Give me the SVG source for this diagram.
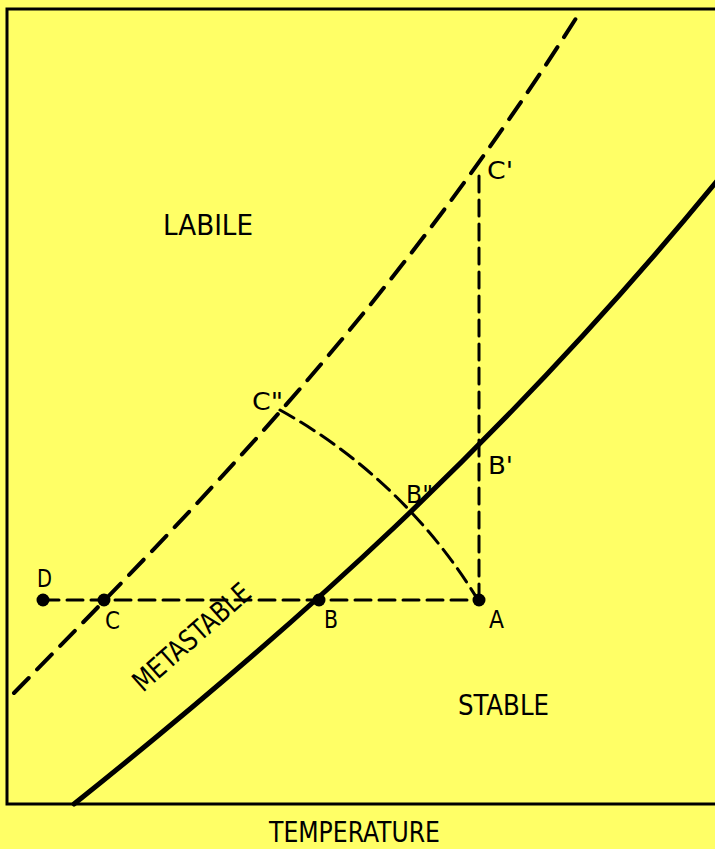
<svg xmlns="http://www.w3.org/2000/svg" width="715" height="849" viewBox="0 0 715 849">
<style>
  .bg { fill: #FFFF66; }
  .frame { fill: none; stroke: #000; stroke-width: 3; }
  .solid { fill: none; stroke: #000; stroke-width: 5; stroke-linecap: round; }
  .dash { fill: none; stroke: #000; stroke-width: 4; stroke-linecap: round; stroke-dasharray: 21 12; }
  .dashthin { fill: none; stroke: #000; stroke-width: 3; stroke-linecap: round; stroke-dasharray: 16 8; }
  .dot { fill: #000; }
  .lbl { font-family: "DejaVu Sans Condensed", "Liberation Sans Narrow", "Liberation Sans", sans-serif; font-size: 24px; fill: #000; }
  .region { font-family: "DejaVu Sans Condensed", "Liberation Sans Narrow", "Liberation Sans", sans-serif; font-size: 28px; fill: #000; }
</style>
<rect class="bg" x="0" y="0" width="715" height="849"/>
<rect class="frame" x="7" y="9" width="720" height="795"/>

<g id="connectors">
  <path id="solubility-curve" class="solid" d="M 74 804 C 288 633 501 444 717 181"/>
  <path id="supersolubility-curve" class="dash" d="M 14 693 C 203 500 391 311 580 12"/>
  <path id="line-DA" class="dashthin" d="M 43 600 L 478 600"/>
  <path id="line-AC1" class="dashthin" stroke-dasharray="20 9" d="M 479 600 L 479 170"/>
  <path id="arc-AC2" class="dashthin" stroke-dasharray="22 11" d="M 280 410 A 535 535 0 0 1 478 600"/>
</g>

<g id="node-D"><circle class="dot" cx="43" cy="600" r="6.5"/><text class="lbl" x="37" y="587" textLength="15" lengthAdjust="spacingAndGlyphs">D</text></g>
<g id="node-C"><circle class="dot" cx="104" cy="600" r="6.5"/><text class="lbl" x="105" y="629" textLength="15" lengthAdjust="spacingAndGlyphs">C</text></g>
<g id="node-B"><circle class="dot" cx="319" cy="600" r="6.5"/><text class="lbl" x="324" y="628" textLength="14" lengthAdjust="spacingAndGlyphs">B</text></g>
<g id="node-A"><circle class="dot" cx="479" cy="600" r="6.5"/><text class="lbl" x="489" y="628" textLength="15" lengthAdjust="spacingAndGlyphs">A</text></g>
<g id="node-B2"><text class="lbl" x="406" y="503" textLength="27" lengthAdjust="spacingAndGlyphs">B"</text></g>
<g id="node-B1"><text class="lbl" x="488" y="474" textLength="25" lengthAdjust="spacingAndGlyphs">B'</text></g>
<g id="node-C1"><text class="lbl" x="487" y="179" textLength="26" lengthAdjust="spacingAndGlyphs">C'</text></g>
<g id="node-C2"><text class="lbl" x="252" y="410" textLength="31" lengthAdjust="spacingAndGlyphs">C"</text></g>

<g id="region-labels">
  <text class="region" x="163" y="235" textLength="90" lengthAdjust="spacingAndGlyphs">LABILE</text>
  <text class="region" x="458" y="715" textLength="91" lengthAdjust="spacingAndGlyphs">STABLE</text>
  <text class="region" x="269" y="842" textLength="171" lengthAdjust="spacingAndGlyphs">TEMPERATURE</text>
  <text class="region" transform="translate(143 693) rotate(-41.5)" x="0" y="0" textLength="147" lengthAdjust="spacingAndGlyphs">METASTABLE</text>
</g>
</svg>
